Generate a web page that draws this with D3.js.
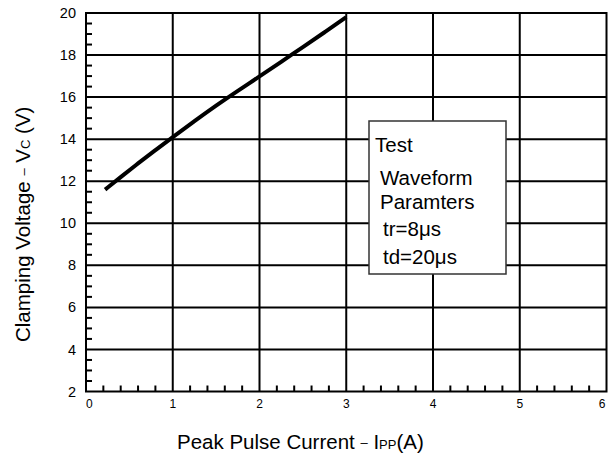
<!DOCTYPE html>
<html>
<head>
<meta charset="utf-8">
<script src="https://cdn.jsdelivr.net/npm/d3@7"></script>
<style>
  body { margin: 0; background: #fff; }
  text { font-family: "Liberation Sans", Arial, sans-serif; fill: #000; }
</style>
</head>
<body>
<div id="chart"></div>
<script>
// clamping voltage curve
var currentA = [0.22, 0.4, 0.6, 0.8, 1.0, 1.25, 1.5, 1.75, 2.0, 2.25, 2.5, 2.75, 3.0];
var voltageV = [11.6, 12.2, 12.85, 13.48, 14.1, 14.86, 15.6, 16.3, 16.98, 17.68, 18.38, 19.08, 19.8];

var xTicks = [0, 1, 2, 3, 4, 5, 6];
var yTicks = [2, 4, 6, 8, 10, 12, 14, 16, 18, 20];
var noteLines = ["Test", "Waveform", "Paramters", "tr=8\u03bcs", "td=20\u03bcs"];

var width = 611, height = 457;
var margin = {top: 13, right: 4.5, bottom: 65.5, left: 86};

var svg = d3.select("#chart").append("svg")
    .attr("width", width)
    .attr("height", height);

var x = d3.scaleLinear().domain([0, 6]).range([margin.left, width - margin.right]);
var y = d3.scaleLinear().domain([2, 20]).range([height - margin.bottom, margin.top]);

// grid
svg.append("g")
    .selectAll("line")
    .data(xTicks.slice(1, -1))
    .enter().append("line")
    .attr("x1", function(d) { return x(d); })
    .attr("x2", function(d) { return x(d); })
    .attr("y1", y(20))
    .attr("y2", y(2))
    .attr("stroke", "#000")
    .attr("stroke-width", 2);

svg.append("g")
    .selectAll("line")
    .data(yTicks.slice(1, -1))
    .enter().append("line")
    .attr("x1", x(0))
    .attr("x2", x(6))
    .attr("y1", function(d) { return y(d); })
    .attr("y2", function(d) { return y(d); })
    .attr("stroke", "#000")
    .attr("stroke-width", 2);

// minor ticks
var yMinor = d3.range(2.5, 20, 0.5).filter(function(v) { return v % 2 !== 0; });
svg.append("g")
    .selectAll("line")
    .data(yMinor)
    .enter().append("line")
    .attr("x1", x(0))
    .attr("x2", x(0) + 6)
    .attr("y1", function(d) { return y(d); })
    .attr("y2", function(d) { return y(d); })
    .attr("stroke", "#000")
    .attr("stroke-width", 2);

var xMinor = d3.range(0.2, 6, 0.2).filter(function(v) { return Math.abs(v - Math.round(v)) > 0.05; });
svg.append("g")
    .selectAll("line")
    .data(xMinor)
    .enter().append("line")
    .attr("x1", function(d) { return x(d); })
    .attr("x2", function(d) { return x(d); })
    .attr("y1", y(2))
    .attr("y2", y(2) - 6)
    .attr("stroke", "#000")
    .attr("stroke-width", 2);

// frame
svg.append("rect")
    .attr("x", x(0))
    .attr("y", y(20))
    .attr("width", x(6) - x(0))
    .attr("height", y(2) - y(20))
    .attr("fill", "none")
    .attr("stroke", "#000")
    .attr("stroke-width", 2);

// tick labels
svg.append("g")
    .selectAll("text")
    .data(yTicks)
    .enter().append("text")
    .attr("x", 76)
    .attr("y", function(d) { return y(d); })
    .attr("dy", "0.35em")
    .attr("text-anchor", "end")
    .style("font-size", "14.5px")
    .text(function(d) { return d; });

svg.append("g")
    .selectAll("text")
    .data(xTicks)
    .enter().append("text")
    .attr("x", function(d) { return d === 6 ? x(d) - 1 : x(d); })
    .attr("y", 408)
    .attr("text-anchor", function(d) { return d === 0 ? "start" : d === 6 ? "end" : "middle"; })
    .style("font-size", "12px")
    .text(function(d) { return d; });

// curve
var pts = currentA.map(function(c, i) { return [c, voltageV[i]]; });
var line = d3.line()
    .x(function(d) { return x(d[0]); })
    .y(function(d) { return y(d[1]); })
    .curve(d3.curveBasis);

svg.append("path")
    .datum(pts)
    .attr("d", line)
    .attr("fill", "none")
    .attr("stroke", "#000")
    .attr("stroke-width", 4);

// note box
svg.append("rect")
    .attr("x", 369)
    .attr("y", 121)
    .attr("width", 137)
    .attr("height", 153)
    .attr("fill", "#fff")
    .attr("stroke", "#333")
    .attr("stroke-width", 1.5);

var notePos = [[375, 152], [380, 185], [380, 209], [383, 236], [383, 264]];
svg.append("g")
    .selectAll("text")
    .data(noteLines)
    .enter().append("text")
    .attr("x", function(d, i) { return notePos[i][0]; })
    .attr("y", function(d, i) { return notePos[i][1]; })
    .style("font-size", "20.5px")
    .text(function(d) { return d; });

// axis titles
var xt = svg.append("text")
    .attr("x", 177)
    .attr("y", 449)
    .style("font-size", "20.5px");
xt.append("tspan").text("Peak Pulse Current ");
xt.append("tspan").style("font-size", "13px").attr("dy", -2).text("\u2013");
xt.append("tspan").attr("dy", 2).text(" I");
xt.append("tspan").style("font-size", "13px").text("PP");
xt.append("tspan").text("(A)");

var yt = svg.append("text")
    .attr("transform", "translate(30,342) rotate(-90)")
    .style("font-size", "20.5px");
yt.append("tspan").text("Clamping Voltage ");
yt.append("tspan").style("font-size", "13px").attr("dy", -2).text("\u2013");
yt.append("tspan").attr("dy", 2).text(" V");
yt.append("tspan").style("font-size", "13px").text("C");
yt.append("tspan").text(" (V)");
</script>
</body>
</html>
